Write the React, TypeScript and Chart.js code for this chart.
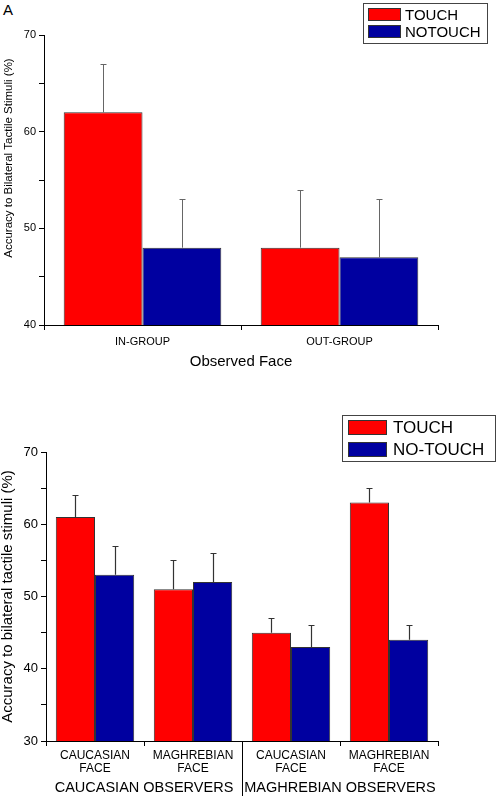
import React, { useEffect, useRef } from 'react';
import { Chart, registerables } from 'chart.js';

Chart.register(...registerables);

const FONT = 'Arial, "Liberation Sans", Helvetica, sans-serif';
const RED = '#ff0000';
const BLUE = '#0000a0';

// ---- Panel A data ----
const topCategories = ['IN-GROUP', 'OUT-GROUP'];
const topTouch = [62, 48];
const topTouchErr = [5, 6];
const topNoTouch = [48, 47];
const topNoTouchErr = [5, 6];
const topLegend = ['TOUCH', 'NOTOUCH'];
const topYTitle = 'Accuracy to Bilateral Tactile Stimuli (%)';
const topXTitle = 'Observed Face';
const topYMin = 40;
const topYMax = 70;

// ---- Panel B data ----
const bottomCategories = [
  ['CAUCASIAN', 'FACE'],
  ['MAGHREBIAN', 'FACE'],
  ['CAUCASIAN', 'FACE'],
  ['MAGHREBIAN', 'FACE'],
];
const bottomGroups = ['CAUCASIAN OBSERVERS', 'MAGHREBIAN OBSERVERS'];
const bottomTouch = [61, 51, 45, 63];
const bottomTouchErr = [3, 4, 2, 2];
const bottomNoTouch = [53, 52, 43, 44];
const bottomNoTouchErr = [4, 4, 3, 2];
const bottomLegend = ['TOUCH', 'NO-TOUCH'];
const bottomYTitle = 'Accuracy to bilateral tactile stimuli (%)';
const bottomYMin = 30;
const bottomYMax = 70;

const errorBarPlugin = {
  id: 'errorBars',
  afterDatasetsDraw(chart: any, _args: any, opts: any) {
    const { ctx } = chart;
    const yScale = chart.scales.y;
    chart.data.datasets.forEach((ds: any, i: number) => {
      const meta = chart.getDatasetMeta(i);
      const errs = ds.errors as number[] | undefined;
      if (!errs) return;
      meta.data.forEach((bar: any, j: number) => {
        const v = ds.data[j] as number;
        const yTop = Math.round(yScale.getPixelForValue(v + errs[j])) + 0.5;
        const x = Math.round(bar.x) + 0.5;
        ctx.save();
        ctx.strokeStyle = opts.color;
        ctx.lineWidth = opts.width;
        ctx.beginPath();
        ctx.moveTo(x, bar.y);
        ctx.lineTo(x, yTop);
        ctx.moveTo(x - opts.cap, yTop);
        ctx.lineTo(x + opts.cap, yTop);
        ctx.stroke();
        ctx.restore();
      });
    });
  },
};

const boxLegendPlugin = {
  id: 'boxLegend',
  afterDraw(chart: any, _args: any, opts: any) {
    const { ctx } = chart;
    ctx.save();
    ctx.strokeStyle = '#444';
    ctx.lineWidth = 1;
    ctx.strokeRect(opts.x + 0.5, opts.y + 0.5, opts.w, opts.h);
    ctx.font = `${opts.fontSize}px ${FONT}`;
    ctx.textBaseline = 'middle';
    ctx.textAlign = 'left';
    chart.data.datasets.forEach((ds: any, i: number) => {
      const ry = opts.rows[i];
      ctx.fillStyle = ds.backgroundColor;
      ctx.fillRect(opts.swX, ry, opts.swW, opts.swH);
      ctx.strokeStyle = '#333';
      ctx.strokeRect(opts.swX + 0.5, ry + 0.5, opts.swW - 1, opts.swH - 1);
      ctx.fillStyle = '#000';
      ctx.fillText(ds.label, opts.textX, ry + opts.swH / 2 + 1);
    });
    ctx.restore();
  },
};

const yTitlePlugin = {
  id: 'yTitle',
  afterDraw(chart: any, _args: any, opts: any) {
    if (!opts || !opts.text) return;
    const { ctx, chartArea } = chart;
    const cy = (chartArea.top + chartArea.bottom) / 2 + (opts.shift || 0);
    ctx.save();
    ctx.translate(opts.x, cy);
    ctx.rotate(-Math.PI / 2);
    ctx.font = `${opts.fontSize}px ${FONT}`;
    ctx.fillStyle = '#000';
    ctx.textAlign = 'center';
    ctx.textBaseline = 'middle';
    ctx.fillText(opts.text, 0, 0);
    ctx.restore();
  },
};

const separatorPlugin = {
  id: 'separator',
  afterDraw(chart: any, _args: any, opts: any) {
    if (!opts || !opts.enabled) return;
    const { ctx } = chart;
    const xs = chart.scales.x;
    const x = Math.round(xs.getPixelForValue(opts.at)) + 0.5;
    ctx.save();
    ctx.strokeStyle = '#000';
    ctx.lineWidth = 1;
    ctx.beginPath();
    ctx.moveTo(x, chart.chartArea.bottom);
    ctx.lineTo(x, chart.height);
    ctx.stroke();
    ctx.restore();
  },
};

function yAxis(min: number, max: number, tickSize: number, width: number) {
  return {
    type: 'linear',
    min,
    max,
    afterFit: (s: any) => {
      s.width = width;
    },
    ticks: {
      stepSize: 5,
      color: '#000',
      padding: 3,
      font: { family: FONT, size: tickSize },
      callback: (v: any) => (Number(v) % 10 === 0 ? String(v) : ''),
    },
    grid: { drawOnChartArea: false, color: '#000', tickLength: 5, tickWidth: 1 },
    border: { display: true, color: '#000', width: 1 },
    title: { display: false },
  };
}

function makeDatasets(touch: number[], touchErr: number[], noTouch: number[], noTouchErr: number[], labels: string[]) {
  return [
    {
      label: labels[0],
      data: touch,
      errors: touchErr,
      backgroundColor: RED,
      borderColor: '#333',
      borderWidth: 1,
      xAxisID: 'x',
      yAxisID: 'y',
    },
    {
      label: labels[1],
      data: noTouch,
      errors: noTouchErr,
      backgroundColor: BLUE,
      borderColor: '#333',
      borderWidth: 1,
      xAxisID: 'x',
      yAxisID: 'y',
    },
  ];
}

function topConfig(): any {
  return {
    type: 'bar',
    data: {
      labels: topCategories,
      datasets: makeDatasets(topTouch, topTouchErr, topNoTouch, topNoTouchErr, topLegend),
    },
    options: {
      responsive: false,
      animation: false,
      layout: { padding: { top: 35, right: 60, left: 0, bottom: 0 } },
      datasets: { bar: { categoryPercentage: 0.8, barPercentage: 1.0 } },
      scales: {
        x: {
          type: 'category',
          offset: true,
          afterFit: (s: any) => {
            s.height = 55;
          },
          ticks: { color: '#000', padding: 5, font: { family: FONT, size: 11 } },
          grid: { offset: true, drawOnChartArea: false, color: '#000', tickLength: 5 },
          border: { display: true, color: '#000', width: 1 },
          title: {
            display: true,
            text: topXTitle,
            color: '#000',
            font: { family: FONT, size: 15 },
            padding: { top: 0, bottom: 9 },
          },
        },
        y: yAxis(topYMin, topYMax, 11, 44),
      },
      plugins: {
        legend: { display: false },
        tooltip: { enabled: false },
        errorBars: { color: '#666', width: 1, cap: 3 },
        yTitle: { text: topYTitle, fontSize: 11.5, x: 9, shift: -22 },
        boxLegend: {
          x: 363, y: 3, w: 124, h: 40,
          swX: 368, swW: 33, swH: 13,
          rows: [8, 25],
          textX: 405,
          fontSize: 15,
        },
        separator: { enabled: false },
      },
    },
    plugins: [errorBarPlugin, boxLegendPlugin, separatorPlugin, yTitlePlugin],
  };
}

function bottomConfig(): any {
  return {
    type: 'bar',
    data: {
      labels: bottomCategories,
      datasets: makeDatasets(bottomTouch, bottomTouchErr, bottomNoTouch, bottomNoTouchErr, bottomLegend),
    },
    options: {
      responsive: false,
      animation: false,
      layout: { padding: { top: 52, right: 60, left: 0, bottom: 0 } },
      datasets: { bar: { categoryPercentage: 0.8, barPercentage: 1.0 } },
      scales: {
        x: {
          type: 'category',
          offset: true,
          weight: 0,
          afterFit: (s: any) => {
            s.height = 35;
          },
          ticks: { color: '#000', padding: 3, maxRotation: 0, autoSkip: false, font: { family: FONT, size: 12, lineHeight: 1.1 } },
          grid: { offset: true, drawOnChartArea: false, color: '#000', tickLength: 5 },
          border: { display: true, color: '#000', width: 1 },
        },
        x2: {
          type: 'category',
          position: 'bottom',
          offset: true,
          weight: 1,
          labels: bottomGroups,
          afterFit: (s: any) => {
            s.height = 20;
          },
          ticks: { color: '#000', padding: 3, maxRotation: 0, autoSkip: false, font: { family: FONT, size: 14.5 } },
          grid: { display: false, drawTicks: false },
          border: { display: false },
        },
        y: yAxis(bottomYMin, bottomYMax, 13, 46),
      },
      plugins: {
        legend: { display: false },
        tooltip: { enabled: false },
        errorBars: { color: '#333', width: 1.2, cap: 3 },
        yTitle: { text: bottomYTitle, fontSize: 15, x: 8, shift: 0 },
        boxLegend: {
          x: 342, y: 15, w: 153, h: 46,
          swX: 348, swW: 39, swH: 15,
          rows: [20, 42],
          textX: 393,
          fontSize: 17,
        },
        separator: { enabled: true, at: 1.5 },
      },
    },
    plugins: [errorBarPlugin, boxLegendPlugin, separatorPlugin, yTitlePlugin],
  };
}

function ChartCanvas({ config, top, height }: { config: () => any; top: number; height: number }) {
  const ref = useRef<HTMLCanvasElement | null>(null);
  useEffect(() => {
    if (!ref.current) return;
    const chart = new Chart(ref.current, config());
    return () => chart.destroy();
  }, [config]);
  return (
    <canvas
      ref={ref}
      width={498}
      height={height}
      style={{ position: 'absolute', left: 0, top, width: 498, height, display: 'block' }}
    />
  );
}

export default function App() {
  return (
    <div style={{ position: 'absolute', left: 0, top: 0, width: 498, height: 796, background: '#fff', overflow: 'hidden' }}>
      <div style={{ position: 'absolute', left: 3, top: 2, fontFamily: FONT, fontSize: 15, lineHeight: '16px', color: '#000' }}>A</div>
      <ChartCanvas config={topConfig} top={0} height={380} />
      <ChartCanvas config={bottomConfig} top={400} height={396} />
    </div>
  );
}
